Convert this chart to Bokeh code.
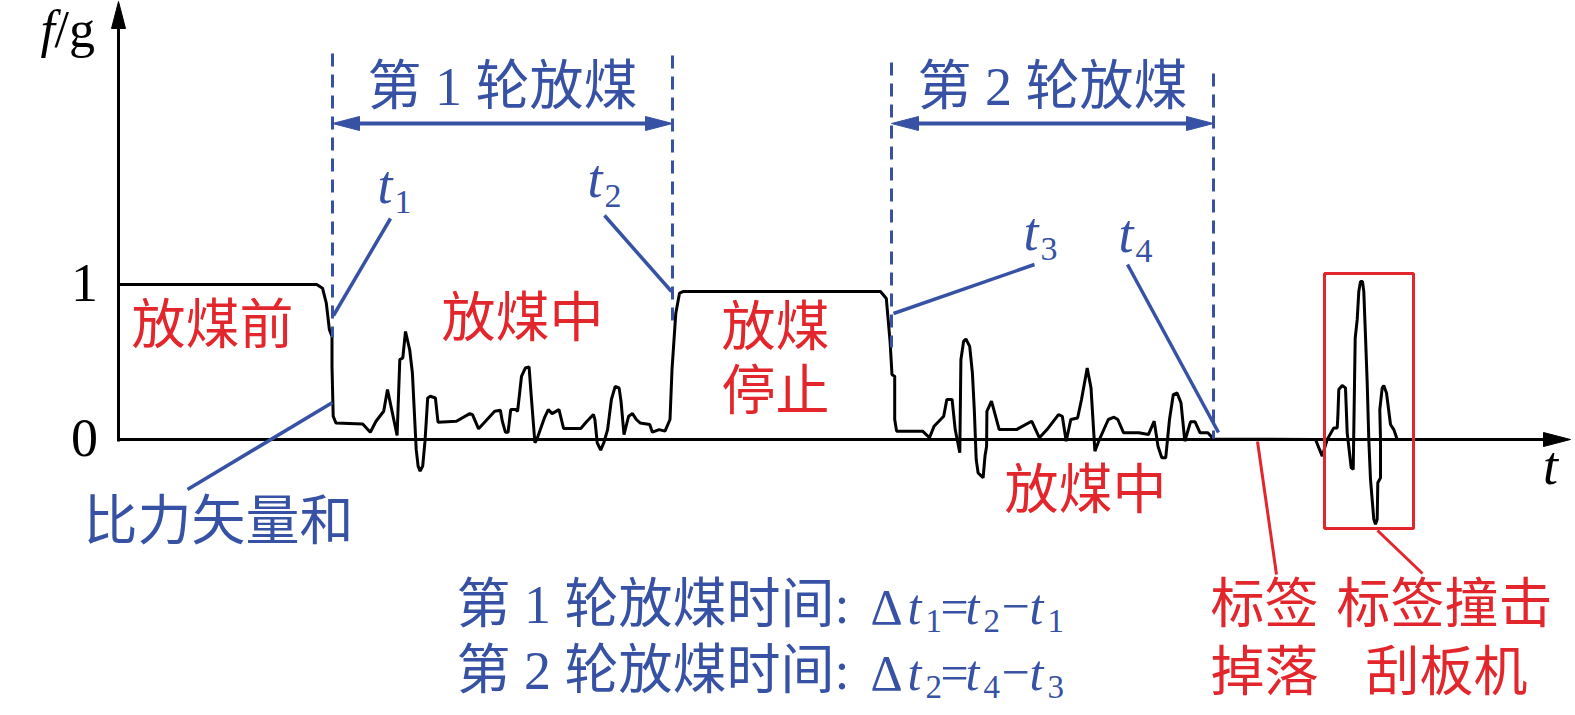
from bokeh.plotting import figure
from bokeh.models import Range1d
from bokeh.core.properties import value
from bokeh.embed import file_html
from bokeh.resources import INLINE

# ---------------- data (t in arbitrary time units, f in g) ----------------
pre_t = [0.0, 19.82, 20.40, 20.78, 21.09, 21.35, 21.35, 21.47, 21.74]
pre_f = [1.0, 1.0, 0.976, 0.88, 0.708, 0.665, 0.472, 0.15, 0.107]

round1_t = [24.42, 25.18, 25.75, 26.52, 26.90, 27.86, 28.13, 28.43, 28.70, 29.12,
            29.39, 29.77, 29.96, 30.16, 30.42, 30.65, 30.92, 31.19, 31.69, 31.95,
            33.79, 35.13, 35.40, 36.01, 37.62, 38.19, 38.38, 38.69, 38.96, 39.22,
            39.72, 39.91, 40.30, 40.68, 41.06, 41.25, 41.64, 41.83, 42.59, 42.98,
            43.36, 44.05, 44.51, 46.23, 46.80, 47.49, 47.64, 47.87, 48.22, 48.53,
            48.91, 49.29, 49.67, 50.06, 50.25, 50.55, 51.01, 51.40, 51.78, 52.16,
            53.12, 53.39, 54.07, 54.65, 55.15]
round1_f = [0.10, 0.047, 0.118, 0.182, 0.322, 0.026, 0.515, 0.526, 0.697, 0.579,
            0.429, -0.064, -0.172, -0.204, -0.172, -0.011, 0.268, 0.279, 0.268, 0.112,
            0.118, 0.167, 0.161, 0.069, 0.182, 0.189, 0.118, 0.047, 0.047, 0.193,
            0.193, 0.182, 0.408, 0.461, 0.468, 0.30, -0.021, 0.0, 0.139, 0.193,
            0.167, 0.193, 0.071, 0.071, 0.114, 0.161, 0.129, -0.021, -0.069, -0.021,
            0.064, 0.258, 0.343, 0.333, 0.247, 0.032, 0.15, 0.167, 0.129, 0.107,
            0.097, 0.047, 0.064, 0.054, 0.129]

stop_t = [55.35, 55.73, 56.10, 56.50, 76.20, 76.78, 77.16, 77.35, 77.62, 77.62, 77.81]
stop_f = [0.45, 0.815, 0.944, 0.955, 0.955, 0.91, 0.63, 0.418, 0.408, 0.129, 0.054]

round2_t = [80.41, 81.10, 81.56, 82.52, 82.83, 83.36, 83.67, 84.13, 84.24, 84.51,
            84.74, 85.12, 85.39, 85.58, 85.77, 85.96, 86.46, 86.65, 86.81, 86.84,
            87.30, 88.07, 89.79, 91.32, 92.09, 92.85, 94.00, 94.38, 94.77, 95.23,
            95.91, 96.30, 96.87, 97.25, 97.64, 98.02, 98.98, 99.55, 99.93, 100.51,
            102.04, 102.99, 103.57, 103.95, 104.33, 104.72, 105.10, 105.48, 105.86, 106.25,
            106.63, 107.20, 107.66, 108.16, 108.93, 109.50]
round2_f = [0.054, 0.011, 0.086, 0.15, 0.258, 0.258, 0.064, -0.086, 0.515, 0.633,
            0.648, 0.601, 0.429, 0.193, -0.129, -0.215, -0.247, -0.107, -0.043, 0.182,
            0.247, 0.064, 0.064, 0.118, 0.011, 0.064, 0.161, 0.15, -0.011, 0.129,
            0.139, 0.258, 0.461, 0.333, -0.075, -0.011, 0.129, 0.144, 0.129, 0.043,
            0.043, 0.032, 0.118, -0.043, -0.118, -0.118, 0.129, 0.29, 0.30, 0.236,
            -0.011, 0.114, 0.114, 0.043, 0.043, 0.004]

impact_t = [119.70, 120.37, 120.87, 121.53, 121.87, 121.93, 122.03, 122.37, 122.70, 122.87,
            123.27, 123.47, 123.67, 123.87, 124.03, 124.20, 124.40, 124.53, 124.70, 124.87,
            125.03, 125.20, 125.53, 125.70, 125.87, 125.93, 126.20, 126.20, 126.13, 126.37,
            126.53, 126.80, 127.20, 127.53, 127.87, 128.90]
impact_f = [0.0, -0.107, 0.0, 0.075, 0.075, 0.139, 0.322, 0.348, 0.333, 0.043,
            -0.182, -0.193, 0.655, 0.773, 0.955, 1.019, 1.019, 0.955, 0.665, 0.365,
            0.0, -0.258, -0.515, -0.547, -0.515, -0.279, -0.247, 0.0, 0.193, 0.333,
            0.348, 0.30, 0.097, 0.064, 0.0, 0.0]

event_t = [21.4, 55.4, 77.3, 109.5]          # t1, t2, t3, t4
event_names = ["1", "2", "3", "4"]
y_tick_values = [0, 1]
y_tick_labels = ["0", "1"]
round_titles = ["第 1 轮放煤", "第 2 轮放煤"]
formula_prefix = ["第 1 轮放煤时间:", "第 2 轮放煤时间:"]
formula_subs = [["1", "2", "1"], ["2", "4", "3"]]

sig_t = pre_t + round1_t + stop_t + round2_t + impact_t
sig_f = pre_f + round1_f + stop_f + round2_f + impact_f

# ---------------- layout helpers ----------------
W, H = 1575, 715
BLUE = "#3752a4"
RED = "#e2262c"
CJK = "'Liberation Serif', 'Noto Sans CJK SC'"
SERIF = "Liberation Serif"


def X(px):
    return (px - 118) / 10.0


def Y(py):
    return (439 - py) / 155.0


def PX(t):
    return 118 + t * 10.0


p = figure(width=W, height=H,
           x_range=Range1d(X(0), X(W)), y_range=Range1d(Y(H), Y(0)),
           output_backend="svg", toolbar_location=None, min_border=0,
           x_axis_location=None, y_axis_location=None,
           outline_line_color=None, background_fill_color="white",
           border_fill_color="white")
p.grid.visible = False


def txt(px, py, s, size, color, font=CJK, style="normal", align="left"):
    """py is the visual centre of the text line"""
    p.text(x=[X(px)], y=[Y(py)], text=[s], text_font=value(font),
           text_font_size=f"{size}px", text_color=color, text_font_style=style,
           text_align=align, text_baseline="middle")


def latin(px, base, s, size, color, style="normal", align="left"):
    """place serif latin text by its alphabetic baseline"""
    txt(px, base - 0.34 * size, s, size, color, SERIF, style, align)


def seg(p0, p1, color, width, dash="solid"):
    p.segment(x0=[X(p0[0])], y0=[Y(p0[1])], x1=[X(p1[0])], y1=[Y(p1[1])],
              line_color=color, line_width=width, line_dash=dash)


def head(tip, direction, color, length=27, half=7):
    tx, ty = tip
    if direction == "right":
        pts = [(tx, ty), (tx - length, ty - half), (tx - length, ty + half)]
    elif direction == "left":
        pts = [(tx, ty), (tx + length, ty - half), (tx + length, ty + half)]
    else:  # up
        pts = [(tx, ty), (tx - half, ty + length), (tx + half, ty + length)]
    p.patch([X(a) for a, b in pts], [Y(b) for a, b in pts], fill_color=color,
            line_color=color, line_width=1)


# ---------------- axes ----------------
seg((118, 439), (1548, 439), "black", 3.2)
head((1570, 439), "right", "black")
seg((118, 441), (118, 25), "black", 3)
head((118, 1), "up", "black")
latin(1550, 484, "t", 54, "black", "italic", "center")
latin(40, 47, "f", 52, "black", "italic")
latin(54, 47, "/g", 52, "black")
for v, lab in zip(y_tick_values, y_tick_labels):
    latin(84, 439 - v * 155 + 17, lab, 54, "black", "normal", "center")

# ---------------- signal ----------------
p.line(sig_t, sig_f, line_color="black", line_width=3)

# ---------------- event markers ----------------
dash_tops = [53, 55, 62, 73]
dash_bottoms = [337, 322, 347, 438]
for t, top, bot in zip(event_t, dash_tops, dash_bottoms):
    seg((PX(t), top), (PX(t), bot), BLUE, 3, "13 8")

for i, title in enumerate(round_titles):
    a, b = PX(event_t[2 * i]), PX(event_t[2 * i + 1])
    seg((a + 20, 123), (b - 20, 123), BLUE, 4)
    head((a, 123), "left", BLUE)
    head((b, 123), "right", BLUE)
    txt((a + b) / 2, 86, title, 54, BLUE, CJK, "normal", "center")

# t labels and pointer lines
t_label_pos = [(377, 203), (587, 197), (1023, 250), (1118, 252)]
pointers = [((390, 218), (333, 315)), ((604, 215), (671, 291)),
            ((1034, 264), (893, 313)), ((1127, 264), (1218, 432))]
for name, (lx, ly), (a, b) in zip(event_names, t_label_pos, pointers):
    latin(lx, ly, "t", 54, BLUE, "italic")
    latin(lx + 17, ly + 10, name, 34, BLUE)
    seg(a, b, BLUE, 3.5)

# vector-sum pointer
seg((332, 402), (187, 489), BLUE, 3.5)
txt(218, 521, "比力矢量和", 54, BLUE, CJK, "normal", "center")

# ---------------- red phase labels ----------------
txt(212, 325, "放煤前", 54, RED, CJK, "normal", "center")
txt(522, 318, "放煤中", 54, RED, CJK, "normal", "center")
txt(775, 327, "放煤", 54, RED, CJK, "normal", "center")
txt(775, 391, "停止", 54, RED, CJK, "normal", "center")
txt(1085, 490, "放煤中", 54, RED, CJK, "normal", "center")
txt(1264, 604, "标签", 54, RED, CJK, "normal", "center")
txt(1264, 672, "掉落", 54, RED, CJK, "normal", "center")
txt(1444, 604, "标签撞击", 54, RED, CJK, "normal", "center")
txt(1446, 672, "刮板机", 54, RED, CJK, "normal", "center")

# red box + leader lines
p.quad(left=[X(1324)], right=[X(1413)], top=[Y(273)], bottom=[Y(528)],
       fill_color=None, line_color=RED, line_width=3)
seg((1257, 441), (1276, 574), RED, 3)
seg((1377, 530), (1422, 573), RED, 3)

# ---------------- formula lines ----------------
for i, (prefix, subs) in enumerate(zip(formula_prefix, formula_subs)):
    cy = 604 + i * 66
    base = 623 + i * 66
    txt(456, cy, prefix, 54, BLUE, CJK, "normal", "left")
    latin(870, base, "Δ", 50, BLUE)
    latin(907, base, "t", 50, BLUE, "italic")
    latin(925, base + 9, subs[0], 33, BLUE)
    latin(940, base, "=", 50, BLUE)
    latin(965, base, "t", 50, BLUE, "italic")
    latin(983, base + 9, subs[1], 33, BLUE)
    latin(1001, base, "−", 50, BLUE)
    latin(1029, base, "t", 50, BLUE, "italic")
    latin(1047, base + 9, subs[2], 33, BLUE)

open("out.html", "w").write(file_html(p, INLINE))
